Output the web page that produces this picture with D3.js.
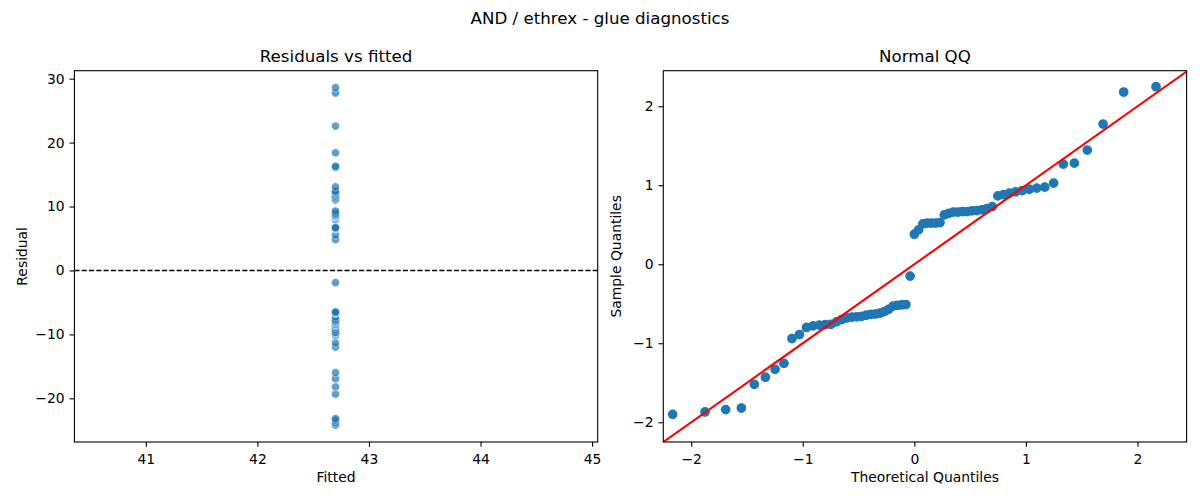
<!DOCTYPE html>
<html>
<head>
<meta charset="utf-8">
<script src="https://cdn.jsdelivr.net/npm/d3@7"></script>
<style>
  body { margin: 0; background: #fff; }
  text { font-family: "DejaVu Sans", sans-serif; fill: #000; }
</style>
</head>
<body>
<div id="chart"></div>
<script>
// Glue diagnostics: residuals vs fitted + normal QQ

// Single fitted value (all points share it)
const fittedValue = 42.70;

// Residuals (sorted)
const residuals = [
  -24.19, -23.81, -23.42, -23.17, -19.35, -18.20, -16.93, -15.98, -11.97, -11.33,
  -10.18, -9.93, -9.80, -9.74, -9.67, -9.29, -8.91, -8.66, -8.53, -8.47,
  -8.40, -8.21, -8.08, -8.02, -7.89, -7.64, -7.26, -6.75, -6.62, -6.56,
  -6.49, -1.91, 4.84, 5.54, 6.49, 6.62, 6.62, 6.62, 6.71, 7.96,
  8.21, 8.40, 8.40, 8.49, 8.49, 8.59, 8.66, 8.78, 8.97, 9.29,
  11.02, 11.23, 11.46, 11.66, 11.88, 12.09, 12.26, 12.42, 13.07, 16.13,
  16.29, 18.40, 22.58, 27.75, 28.60
];

// QQ plot: theoretical quantiles (x) and sample quantiles (y)
const qqTheoretical = [
  -2.166, -1.876, -1.691, -1.550, -1.434, -1.335, -1.248, -1.169, -1.097, -1.030,
  -0.967, -0.908, -0.852, -0.799, -0.748, -0.698, -0.651, -0.605, -0.560, -0.516,
  -0.473, -0.431, -0.390, -0.349, -0.309, -0.269, -0.230, -0.191, -0.153, -0.114,
  -0.076, -0.038, 0.000, 0.038, 0.076, 0.114, 0.153, 0.191, 0.230, 0.269,
  0.309, 0.349, 0.390, 0.431, 0.473, 0.516, 0.560, 0.605, 0.651, 0.698,
  0.748, 0.799, 0.852, 0.908, 0.967, 1.030, 1.097, 1.169, 1.248, 1.335,
  1.434, 1.550, 1.691, 1.876, 2.166
];
const qqSample = [
  -1.90, -1.87, -1.84, -1.82, -1.52, -1.43, -1.33, -1.255, -0.94, -0.89,
  -0.80, -0.78, -0.77, -0.765, -0.76, -0.73, -0.70, -0.68, -0.67, -0.665,
  -0.66, -0.645, -0.635, -0.63, -0.62, -0.60, -0.57, -0.53, -0.52, -0.515,
  -0.51, -0.15, 0.38, 0.435, 0.51, 0.52, 0.52, 0.52, 0.527, 0.625,
  0.645, 0.66, 0.66, 0.667, 0.667, 0.675, 0.68, 0.69, 0.705, 0.73,
  0.866, 0.882, 0.90, 0.916, 0.933, 0.95, 0.963, 0.976, 1.027, 1.267,
  1.28, 1.445, 1.774, 2.18, 2.247
];

// Reference line end points (45 degree line)
const lineEnds = [-2.25, 2.44];

// Tick values
const leftXTicks = [41, 42, 43, 44, 45];
const leftYTicks = [-20, -10, 0, 10, 20, 30];
const rightXTicks = [-2, -1, 0, 1, 2];
const rightYTicks = [-2, -1, 0, 1, 2];

const W = 1200, H = 500;
const plotTop = 70.7, plotBottom = 442;
const tickLen = 4.86;
const blue = "#1f77b4";

const svg = d3.select("#chart")
  .append("svg")
  .attr("width", W)
  .attr("height", H);

svg.append("rect").attr("width", W).attr("height", H).attr("fill", "#fff");

// Suptitle
svg.append("text")
  .attr("x", 600)
  .attr("y", 24)
  .attr("text-anchor", "middle")
  .style("font-size", "16.67px")
  .text("AND / ethrex - glue diagnostics");

// Helper to draw axes + frame for a panel
function drawAxes(g, x, y, xTicks, yTicks) {
  const xAxis = d3.axisBottom(x)
    .tickValues(xTicks)
    .tickFormat(d3.format("d"))
    .tickSizeOuter(0)
    .tickSize(tickLen)
    .tickPadding(tickLen);
  const yAxis = d3.axisLeft(y)
    .tickValues(yTicks)
    .tickFormat(d3.format("d"))
    .tickSizeOuter(0)
    .tickSize(tickLen)
    .tickPadding(tickLen);

  const gx = g.append("g")
    .attr("transform", `translate(0,${plotBottom})`)
    .call(xAxis);
  gx.selectAll("text").attr("dy", "0.86em");

  const gy = g.append("g")
    .attr("transform", `translate(${x.range()[0]},0)`)
    .call(yAxis);

  [gx, gy].forEach((a) => {
    a.select(".domain").remove();
    a.selectAll("line").attr("stroke", "#000").attr("stroke-width", 1.1);
    a.selectAll("text")
      .style("font-size", "13.9px")
      .style("font-family", "'DejaVu Sans', sans-serif")
      .attr("fill", "#000");
  });

  // frame (spines)
  g.append("rect")
    .attr("x", x.range()[0])
    .attr("y", plotTop)
    .attr("width", x.range()[1] - x.range()[0])
    .attr("height", plotBottom - plotTop)
    .attr("fill", "none")
    .attr("stroke", "#000")
    .attr("stroke-width", 1.1);
}

// ---------- Left panel: residuals vs fitted ----------
const xLeft = d3.scaleLinear().domain([40.36, 45.05]).range([74.4, 597.7]);
const yLeft = d3.scaleLinear().domain([-26.83, 31.24]).range([plotBottom, plotTop]);
const left = svg.append("g");

// zero line
left.append("line")
  .attr("x1", xLeft.range()[0])
  .attr("x2", xLeft.range()[1])
  .attr("y1", yLeft(0))
  .attr("y2", yLeft(0))
  .attr("stroke", "#000")
  .attr("stroke-width", 1.39)
  .attr("stroke-dasharray", "5.1,2.2");

left.selectAll("circle")
  .data(residuals)
  .enter()
  .append("circle")
  .attr("cx", xLeft(fittedValue))
  .attr("cy", (d) => yLeft(d))
  .attr("r", 4.17)
  .attr("fill", blue)
  .attr("stroke", "#fff")
  .attr("stroke-width", 0.67)
  .attr("opacity", 0.7);

drawAxes(left, xLeft, yLeft, leftXTicks, leftYTicks);

left.append("text")
  .attr("x", (xLeft.range()[0] + xLeft.range()[1]) / 2)
  .attr("y", 62.4)
  .attr("text-anchor", "middle")
  .style("font-size", "16.67px")
  .text("Residuals vs fitted");

left.append("text")
  .attr("x", (xLeft.range()[0] + xLeft.range()[1]) / 2)
  .attr("y", 482)
  .attr("text-anchor", "middle")
  .style("font-size", "13.9px")
  .text("Fitted");

left.append("text")
  .attr("transform", `translate(26.5,${(plotTop + plotBottom) / 2}) rotate(-90)`)
  .attr("text-anchor", "middle")
  .style("font-size", "13.9px")
  .text("Residual");

// ---------- Right panel: normal QQ ----------
const xRight = d3.scaleLinear().domain([-2.25, 2.44]).range([663.3, 1186.6]);
const yRight = d3.scaleLinear().domain([-2.25, 2.45]).range([plotBottom, plotTop]);
const right = svg.append("g");

const qqData = qqTheoretical.map((t, i) => ({ t: t, s: qqSample[i] }));

right.selectAll("circle")
  .data(qqData)
  .enter()
  .append("circle")
  .attr("cx", (d) => xRight(d.t))
  .attr("cy", (d) => yRight(d.s))
  .attr("r", 4.17)
  .attr("fill", blue)
  .attr("stroke", blue)
  .attr("stroke-width", 1.39);

// clip the reference line to the axes box
svg.append("clipPath").attr("id", "qq-clip")
  .append("rect")
  .attr("x", xRight.range()[0])
  .attr("y", plotTop)
  .attr("width", xRight.range()[1] - xRight.range()[0])
  .attr("height", plotBottom - plotTop);

right.append("line")
  .attr("clip-path", "url(#qq-clip)")
  .attr("x1", xRight(lineEnds[0]))
  .attr("y1", yRight(lineEnds[0]))
  .attr("x2", xRight(lineEnds[1]))
  .attr("y2", yRight(lineEnds[1]))
  .attr("stroke", "red")
  .attr("stroke-width", 2.08);

drawAxes(right, xRight, yRight, rightXTicks, rightYTicks);

right.append("text")
  .attr("x", (xRight.range()[0] + xRight.range()[1]) / 2)
  .attr("y", 62.4)
  .attr("text-anchor", "middle")
  .style("font-size", "16.67px")
  .text("Normal QQ");

right.append("text")
  .attr("x", (xRight.range()[0] + xRight.range()[1]) / 2)
  .attr("y", 482)
  .attr("text-anchor", "middle")
  .style("font-size", "13.9px")
  .text("Theoretical Quantiles");

right.append("text")
  .attr("transform", `translate(620.5,${(plotTop + plotBottom) / 2}) rotate(-90)`)
  .attr("text-anchor", "middle")
  .style("font-size", "13.9px")
  .text("Sample Quantiles");
</script>
</body>
</html>
